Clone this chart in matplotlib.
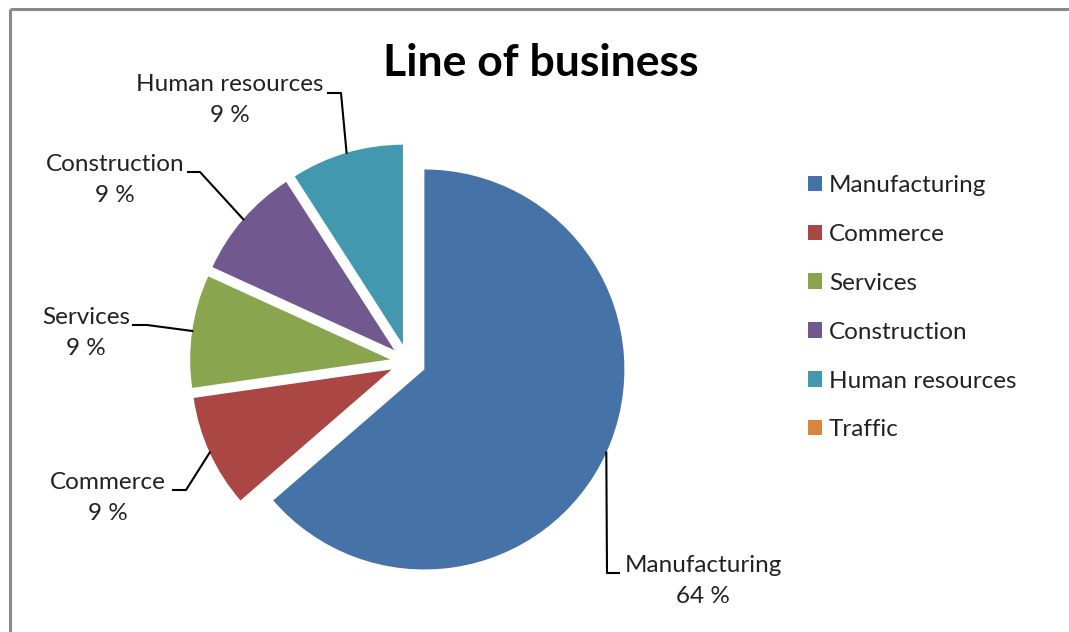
import numpy as np
import matplotlib.pyplot as plt

# Line of business shares (number of companies)
categories = ['Manufacturing', 'Commerce', 'Services', 'Construction',
              'Human resources', 'Traffic']
counts = [7, 1, 1, 1, 1, 0]
colors = ['#4572A7', '#AA4643', '#89A54E', '#71588F', '#4198AF', '#DB843D']

W, H = 1069, 632
plt.rcParams['font.family'] = ['Lato', 'DejaVu Sans']


def px(x, y):
    """screen pixel (y down) -> data coords (y up)"""
    return x, H - y


fig = plt.figure(figsize=(W / 100, H / 100), dpi=100)
ax = fig.add_axes([0, 0, 1, 1])

# explode is in data units here (pixels), not scaled by radius
wedges, _ = ax.pie(counts, colors=colors, startangle=90, counterclock=False,
                   radius=200, center=px(408, 362), explode=[18] * len(counts),
                   wedgeprops=dict(linewidth=0))
ax.set_xlim(0, W)
ax.set_ylim(0, H)
ax.set_aspect('equal')
ax.axis('off')

# chart border
ax.plot([10, 10], [0, H - 9], color='#8a8a8a', lw=2.2, solid_capstyle='butt')
ax.plot([10, W], [H - 9, H - 9], color='#8a8a8a', lw=2.2, solid_capstyle='butt')

fig.text(541 / W, 1 - 63 / H, 'Line of business', ha='center', va='center',
         fontsize=32, fontweight='bold')

# data labels with leader lines: text centre, elbow, line end near text
label_text = {'Manufacturing': (703, 581), 'Commerce': (108, 498),
              'Services': (86, 333), 'Construction': (115, 180),
              'Human resources': (230, 100)}
label_elbow = {'Manufacturing': [(607, 573), (619, 573)],
               'Commerce': [(186, 490), (173, 490)],
               'Services': [(147, 325), (133, 325)],
               'Construction': [(200, 172), (188, 172)],
               'Human resources': [(341, 93), (328, 93)]}

total = sum(counts)
for w, name, v in zip(wedges, categories, counts):
    if v == 0:
        continue
    mid = np.deg2rad((w.theta1 + w.theta2) / 2)
    ax_pt = (w.center[0] + w.r * np.cos(mid), w.center[1] + w.r * np.sin(mid))
    pts = [ax_pt] + [px(*p) for p in label_elbow[name]]
    xs, ys = zip(*pts)
    ax.plot(xs, ys, color='black', lw=1.5)
    tx, ty = px(*label_text[name])
    ax.text(tx, ty, f'{name}\n{v / total * 100:.0f} %', ha='center', va='center',
            fontsize=17.5, color='#222222', linespacing=1.6)

leg = ax.legend(wedges, categories, loc='upper left',
                bbox_to_anchor=(798 / W, 1 - 165 / H), frameon=False,
                fontsize=17.5, handlelength=0.58, handleheight=0.58,
                handletextpad=0.3, labelspacing=1.15, borderaxespad=0)
for t in leg.get_texts():
    t.set_color('#222222')

fig.savefig('out.png', dpi=100)
